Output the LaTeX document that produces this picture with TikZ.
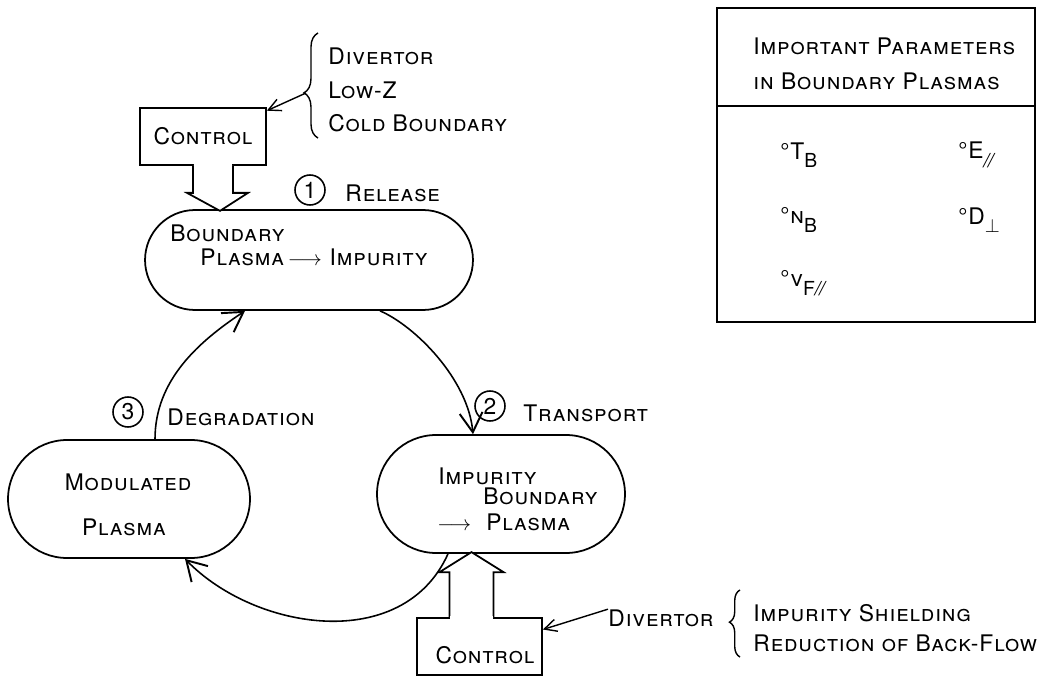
\documentclass[tikz,border=0pt]{standalone}
\usepackage{fontspec}
\setmainfont[LetterSpace=4]{TeX Gyre Heros}
\usepackage{amsmath,amssymb}
\usetikzlibrary{arrows.meta, positioning, calc, decorations.pathreplacing}

\newcommand{\lowsub}[1]{\raisebox{-0.7ex}{\fontsize{11}{11}\selectfont #1}}
\newcommand{\slsl}{{\itshape /\kern-0.5pt/}}

\tikzset{
  plasma/.style={draw, line width=1pt, rounded corners=#1, inner sep=0pt},
  ctlbox/.style={draw, line width=1pt, inner sep=0pt},
  lbl/.style={font=\fontsize{13}{19}\selectfont\scshape, inner sep=0pt},
  num/.style={draw, circle, line width=0.9pt, minimum size=0.6cm, inner sep=0pt, font=\fontsize{13}{13}\selectfont},
  cyc/.style={line width=0.9pt, -{Straight Barb[length=11pt, width=13pt, line width=1.1pt]}},
  thin arrow/.style={line width=0.8pt, -{Straight Barb[length=7pt, width=7pt]}},
  hollow/.style={draw, line width=1pt, fill=white, line join=miter},
  curly/.style={decorate, decoration={brace, amplitude=#1}, line width=0.8pt},
}

\begin{document}
\begin{tikzpicture}[x=0.02cm, y=-0.02cm]
  \useasboundingbox (0,0) rectangle (1056,679);

  % plasma states
  \node [plasma=1cm, minimum width=6.56cm, minimum height=2cm] (bp) at (309,260) {};
  \node [plasma=1.18cm, minimum width=4.96cm, minimum height=2.36cm] (ip) at (501,494) {};
  \node [plasma=1.18cm, minimum width=4.84cm, minimum height=2.36cm] (mp) at (129,499) {};

  \node [lbl, anchor=west] (bp-a) at (170,233) {Boundary};
  \node [lbl, anchor=west] (bp-b) at (200,257) {Plasma\,$\longrightarrow$\,\,Impurity};
  \node [lbl, anchor=west] (ip-a) at (438,476) {Impurity};
  \node [lbl, anchor=west] (ip-b) at (483,496) {Boundary};
  \node [lbl, anchor=west] (ip-c) at (437,522) {$\longrightarrow$\hspace{0.3cm}Plasma};
  \node [lbl] (mp-a) at (128,482) {Modulated};
  \node [lbl] (mp-b) at (124,527) {Plasma};

  % cycle
  \draw [cyc] ($(mp.north)+(26,0)$) .. controls +(0,-60) and +(-45,30) .. ($(bp.south)+(-64,0)$);
  \draw [cyc] ($(bp.south)+(71,0)$) .. controls +(35,15) and +(-5,-55) .. ($(ip.north)+(-28,0)$);
  \draw [cyc] ($(ip.south)+(-53,0)$) .. controls +(-45,100) and +(70,72) .. ($(mp.south)+(56,0)$);

  \node [num] (n1) at (310,190) {1};
  \node [lbl, anchor=west] (rel) at (345,193) {Release};
  \node [num] (n2) at (490,406) {2};
  \node [lbl, anchor=west] (trn) at (523,413) {Transport};
  \node [num] (n3) at (128,412) {3};
  \node [lbl, anchor=west] (deg) at (167,417) {Degradation};

  % controls
  \node [ctlbox, lbl, minimum width=2.52cm, minimum height=1.14cm] (ctl-t) at (203,136.5) {Control};
  \node [ctlbox, minimum width=2.5cm, minimum height=1.14cm] (ctl-b) at (479.5,646.5) {};
  \node [lbl] (ctl-b-l) at (485,655) {Control};

  \draw [hollow] ($(ctl-t.south)+(-10,0)$) -- ++(0,27) -- ++(-6,0) -- ($(ctl-t.south)+(17,45)$)
    -- ++(28,-18) -- ++(-15,0) -- ++(0,-27);
  \draw [white, line width=1.6pt] ($(ctl-t.south)+(-9.4,0)$) -- ($(ctl-t.south)+(29.4,0)$);
  \draw [hollow] ($(ctl-b.north)+(-30,0)$) -- ++(0,-45) -- ++(-10,0) -- ($(ctl-b.north)+(-8,-65)$)
    -- ++(32,20) -- ++(-10,0) -- ++(0,45);
  \draw [white, line width=1.6pt] ($(ctl-b.north)+(-29.4,0)$) -- ($(ctl-b.north)+(13.4,0)$);

  % divertor notes
  \node [lbl, anchor=west, align=left] (dv-t) at (328,90) {Divertor\\Low-Z\\Cold Boundary};
  \draw [curly=8pt, decoration={aspect=0.43}] ($(dv-t.west)+(-10,48)$) -- ($(dv-t.west)+(-10,-57)$);
  \coordinate (br-t) at ($(dv-t.west)+(-22,3)$);
  \draw [thin arrow] (br-t) -- (ctl-t.22);

  \node [lbl, anchor=west] (dv-b) at (608,618) {Divertor};
  \node [lbl, anchor=west, align=left, font=\fontsize{13}{17}\selectfont\scshape] (dv-r) at (753,628)
    {Impurity Shielding\\Reduction of Back-Flow};
  \draw [curly=6pt, decoration={aspect=0.52}] ($(dv-r.west)+(-13,29)$) -- ($(dv-r.west)+(-13,-38)$);
  \draw [thin arrow] (dv-b.north west) -- (ctl-b.15);

  % parameter table
  \node [draw, line width=1pt, minimum width=6.36cm, minimum height=6.28cm] (par) at (876,165) {};
  \draw [line width=1pt] ($(par.north west)+(0,99)$) -- ($(par.north east)+(0,99)$);
  \node [lbl, anchor=west, align=left, font=\fontsize{13}{20}\selectfont\scshape] (par-h) at (753,64)
    {Important Parameters\\in Boundary Plasmas};

  \foreach \nm/\px/\py/\tx in {tb/780/155/{T\lowsub{B}}, nb/780/220/{n\lowsub{B}},
      vf/780/283/{v\lowsub{F\slsl}}, ee/958/155/{E\lowsub{\slsl}}, dp/958/220/{D\lowsub{$\perp$}}}
    \node [lbl, anchor=west] (par-\nm) at (\px,\py) {°\tx};

\end{tikzpicture}
\end{document}
